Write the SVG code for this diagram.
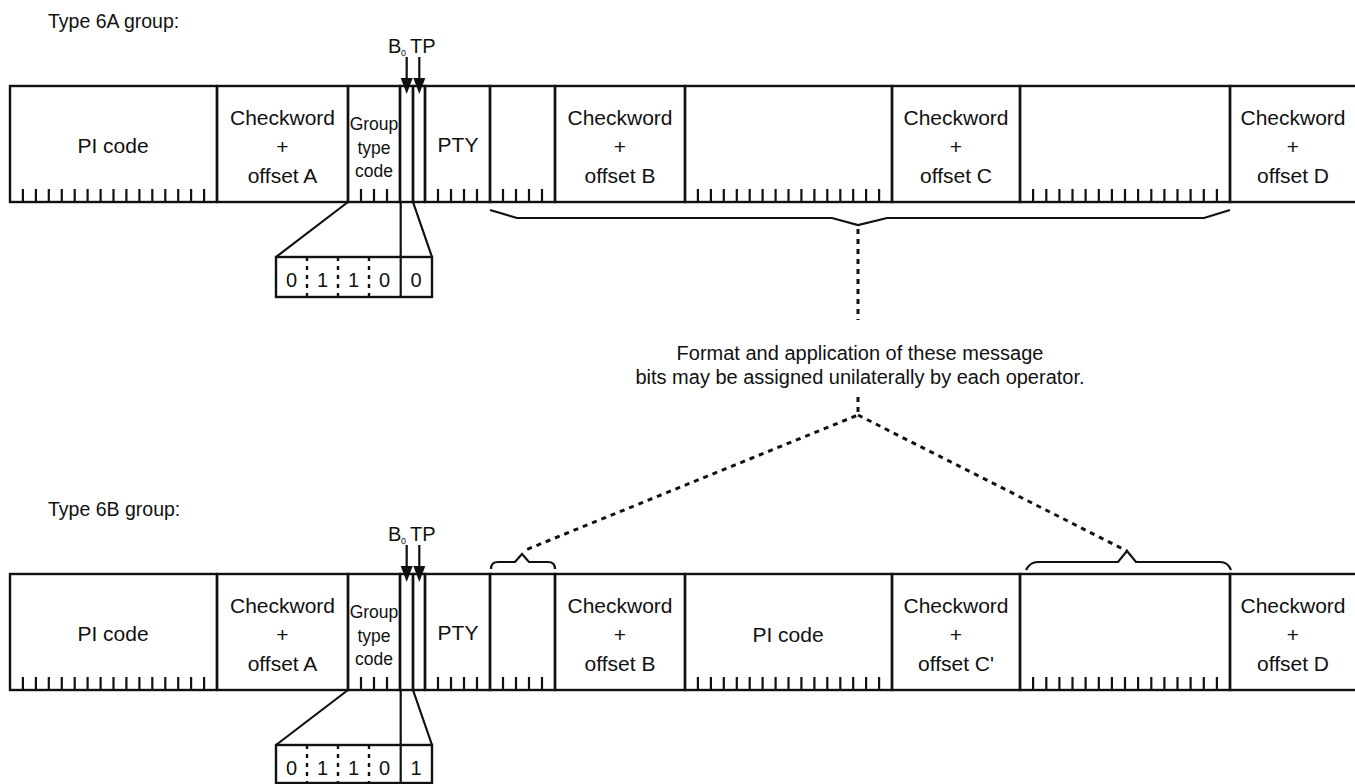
<svg xmlns="http://www.w3.org/2000/svg" width="1355" height="784" viewBox="0 0 1355 784">
<style>
  .f{fill:none;stroke:#111;stroke-width:2.4}
  .ln{fill:none;stroke:#111;stroke-width:2.2}
  .tk{fill:none;stroke:#111;stroke-width:2.2}
  .dot{fill:none;stroke:#111;stroke-width:2.4;stroke-dasharray:4 5}
  .dd{fill:none;stroke:#111;stroke-width:3;stroke-dasharray:5 5}
  text{font-family:"Liberation Sans",Arial,sans-serif;fill:#111}
  .t{font-size:21px;text-anchor:middle}
  .n{font-size:20px;text-anchor:middle}
  .s{font-size:17.5px;text-anchor:middle}
  .h{font-size:19.5px}
  .ah{fill:#111}
</style>
<rect width="1355" height="784" fill="#fff"/>

<!-- ===== Type 6A ===== -->
<g id="label6A"><text class="h" x="48" y="28">Type 6A group:</text></g>
<g id="b0tpA">
  <text x="388" y="53" style="font-size:20px">B</text>
  <text x="401" y="56" style="font-size:9px">0</text>
  <text x="410" y="53" style="font-size:20px">TP</text>
</g>

<g id="rowA">
  <g id="A_pi">
    <rect class="f" x="10" y="86" width="207" height="116"/>
    <text class="t" x="113" y="153">PI code</text>
    <path class="tk" d="M22.9,189V202M35.9,189V202M48.8,189V202M61.8,189V202M74.7,189V202M87.6,189V202M100.6,189V202M113.5,189V202M126.4,189V202M139.4,189V202M152.3,189V202M165.3,189V202M178.2,189V202M191.1,189V202M204.1,189V202"/>
  </g>
  <g id="A_cwA">
    <rect class="f" x="217" y="86" width="131" height="116"/>
    <text class="t" x="282.5" y="125">Checkword</text>
    <text class="t" x="282.5" y="154">+</text>
    <text class="t" x="282.5" y="183">offset A</text>
  </g>
  <g id="A_gtc">
    <rect class="f" x="348" y="86" width="52" height="116"/>
    <text class="s" x="374" y="130">Group</text>
    <text class="s" x="374" y="154">type</text>
    <text class="s" x="374" y="177">code</text>
    <path class="tk" d="M361,189V202M374,189V202M387,189V202"/>
  </g>
  <g id="A_b0"><rect class="f" x="400" y="86" width="13" height="116"/></g>
  <g id="A_tp"><rect class="f" x="413" y="86" width="12" height="116"/></g>
  <g id="A_pty">
    <rect class="f" x="425" y="86" width="65" height="116"/>
    <text class="t" x="458" y="152">PTY</text>
    <path class="tk" d="M438,189V202M451,189V202M464,189V202M477,189V202"/>
  </g>
  <g id="A_f5">
    <rect class="f" x="490" y="86" width="65" height="116"/>
    <path class="tk" d="M503,189V202M516,189V202M529,189V202M542,189V202"/>
  </g>
  <g id="A_cwB">
    <rect class="f" x="555" y="86" width="130" height="116"/>
    <text class="t" x="620" y="125">Checkword</text>
    <text class="t" x="620" y="154">+</text>
    <text class="t" x="620" y="183">offset B</text>
  </g>
  <g id="A_f16c">
    <rect class="f" x="685" y="86" width="207" height="116"/>
    <path class="tk" d="M697.9,189V202M710.9,189V202M723.8,189V202M736.8,189V202M749.7,189V202M762.6,189V202M775.6,189V202M788.5,189V202M801.4,189V202M814.4,189V202M827.3,189V202M840.3,189V202M853.2,189V202M866.1,189V202M879.1,189V202"/>
  </g>
  <g id="A_cwC">
    <rect class="f" x="892" y="86" width="128" height="116"/>
    <text class="t" x="956" y="125">Checkword</text>
    <text class="t" x="956" y="154">+</text>
    <text class="t" x="956" y="183">offset C</text>
  </g>
  <g id="A_f16d">
    <rect class="f" x="1020" y="86" width="210" height="116"/>
    <path class="tk" d="M1033.1,189V202M1046.3,189V202M1059.4,189V202M1072.5,189V202M1085.6,189V202M1098.8,189V202M1111.9,189V202M1125,189V202M1138.1,189V202M1151.3,189V202M1164.4,189V202M1177.5,189V202M1190.6,189V202M1203.8,189V202M1216.9,189V202"/>
  </g>
  <g id="A_cwD">
    <rect class="f" x="1230" y="86" width="140" height="116"/>
    <text class="t" x="1293" y="125">Checkword</text>
    <text class="t" x="1293" y="154">+</text>
    <text class="t" x="1293" y="183">offset D</text>
  </g>
</g>

<g id="bitsA">
  <rect class="f" x="276" y="257" width="156" height="40"/>
  <path class="dot" d="M307,257V297M338,257V297M369,257V297"/>
  <path class="ln" d="M400.7,257V297"/>
  <text class="n" x="291.5" y="287">0</text>
  <text class="n" x="322.5" y="287">1</text>
  <text class="n" x="353.5" y="287">1</text>
  <text class="n" x="384.5" y="287">0</text>
  <text class="n" x="416" y="287">0</text>
</g>

<!-- ===== Type 6B ===== -->
<g id="label6B"><text class="h" x="48" y="516">Type 6B group:</text></g>
<g id="b0tpB">
  <text x="388" y="541" style="font-size:20px">B</text>
  <text x="401" y="544" style="font-size:9px">0</text>
  <text x="410" y="541" style="font-size:20px">TP</text>
</g>

<g id="rowB">
  <g id="B_pi">
    <rect class="f" x="10" y="574" width="207" height="116"/>
    <text class="t" x="113" y="641">PI code</text>
    <path class="tk" d="M22.9,677V690M35.9,677V690M48.8,677V690M61.8,677V690M74.7,677V690M87.6,677V690M100.6,677V690M113.5,677V690M126.4,677V690M139.4,677V690M152.3,677V690M165.3,677V690M178.2,677V690M191.1,677V690M204.1,677V690"/>
  </g>
  <g id="B_cwA">
    <rect class="f" x="217" y="574" width="131" height="116"/>
    <text class="t" x="282.5" y="613">Checkword</text>
    <text class="t" x="282.5" y="642">+</text>
    <text class="t" x="282.5" y="671">offset A</text>
  </g>
  <g id="B_gtc">
    <rect class="f" x="348" y="574" width="52" height="116"/>
    <text class="s" x="374" y="618">Group</text>
    <text class="s" x="374" y="642">type</text>
    <text class="s" x="374" y="665">code</text>
    <path class="tk" d="M361,677V690M374,677V690M387,677V690"/>
  </g>
  <g id="B_b0"><rect class="f" x="400" y="574" width="13" height="116"/></g>
  <g id="B_tp"><rect class="f" x="413" y="574" width="12" height="116"/></g>
  <g id="B_pty">
    <rect class="f" x="425" y="574" width="65" height="116"/>
    <text class="t" x="458" y="640">PTY</text>
    <path class="tk" d="M438,677V690M451,677V690M464,677V690M477,677V690"/>
  </g>
  <g id="B_f5">
    <rect class="f" x="490" y="574" width="65" height="116"/>
    <path class="tk" d="M503,677V690M516,677V690M529,677V690M542,677V690"/>
  </g>
  <g id="B_cwB">
    <rect class="f" x="555" y="574" width="130" height="116"/>
    <text class="t" x="620" y="613">Checkword</text>
    <text class="t" x="620" y="642">+</text>
    <text class="t" x="620" y="671">offset B</text>
  </g>
  <g id="B_pi2">
    <rect class="f" x="685" y="574" width="207" height="116"/>
    <text class="t" x="788" y="642">PI code</text>
    <path class="tk" d="M697.9,677V690M710.9,677V690M723.8,677V690M736.8,677V690M749.7,677V690M762.6,677V690M775.6,677V690M788.5,677V690M801.4,677V690M814.4,677V690M827.3,677V690M840.3,677V690M853.2,677V690M866.1,677V690M879.1,677V690"/>
  </g>
  <g id="B_cwC">
    <rect class="f" x="892" y="574" width="128" height="116"/>
    <text class="t" x="956" y="613">Checkword</text>
    <text class="t" x="956" y="642">+</text>
    <text class="t" x="956" y="671">offset C'</text>
  </g>
  <g id="B_f16d">
    <rect class="f" x="1020" y="574" width="210" height="116"/>
    <path class="tk" d="M1033.1,677V690M1046.3,677V690M1059.4,677V690M1072.5,677V690M1085.6,677V690M1098.8,677V690M1111.9,677V690M1125,677V690M1138.1,677V690M1151.3,677V690M1164.4,677V690M1177.5,677V690M1190.6,677V690M1203.8,677V690M1216.9,677V690"/>
  </g>
  <g id="B_cwD">
    <rect class="f" x="1230" y="574" width="140" height="116"/>
    <text class="t" x="1293" y="613">Checkword</text>
    <text class="t" x="1293" y="642">+</text>
    <text class="t" x="1293" y="671">offset D</text>
  </g>
</g>

<g id="bitsB">
  <rect class="f" x="276" y="745" width="156" height="38"/>
  <path class="dot" d="M307,745V783M338,745V783M369,745V783"/>
  <path class="ln" d="M400.7,745V783"/>
  <text class="n" x="291.5" y="775">0</text>
  <text class="n" x="322.5" y="775">1</text>
  <text class="n" x="353.5" y="775">1</text>
  <text class="n" x="384.5" y="775">0</text>
  <text class="n" x="416" y="775">1</text>
</g>

<g id="note">
  <text class="n" x="860" y="360">Format and application of these message</text>
  <text class="n" x="860" y="384">bits may be assigned unilaterally by each operator.</text>
</g>

<!-- ===== connectors ===== -->
<g id="connectors">
  <!-- B0 / TP arrows -->
  <path class="ln" d="M406.7,57V82M419.3,57V82"/>
  <polygon class="ah" points="400.7,78 412.7,78 406.7,94"/>
  <polygon class="ah" points="413.3,78 425.3,78 419.3,94"/>
  <path class="ln" d="M406.7,545V570M419.3,545V570"/>
  <polygon class="ah" points="400.7,566 412.7,566 406.7,582"/>
  <polygon class="ah" points="413.3,566 425.3,566 419.3,582"/>
  <!-- expansion lines -->
  <path class="ln" d="M348,202L276,257M400.7,202V257M413,202L432,257"/>
  <path class="ln" d="M348,690L276,745M400.7,690V745M413,690L432,745"/>
  <!-- braces -->
  <path class="ln" d="M490,210L517,218L832,218L858,225L887,218L1204,218L1230,210"/>
  <path class="ln" d="M491,569Q491,562 498,562L515,562L522,554L529,562L548,562Q555,562 555,569"/>
  <path class="ln" d="M1026,570Q1030,562 1038,562L1118,562L1127,551L1136,562L1220,562Q1228,562 1231,570"/>
  <!-- dotted leaders -->
  <path class="dd" d="M858,229V320"/>
  <path class="dd" d="M858,397V415L523,551"/>
  <path class="dd" d="M858,415L1127,551"/>
</g>
</svg>
